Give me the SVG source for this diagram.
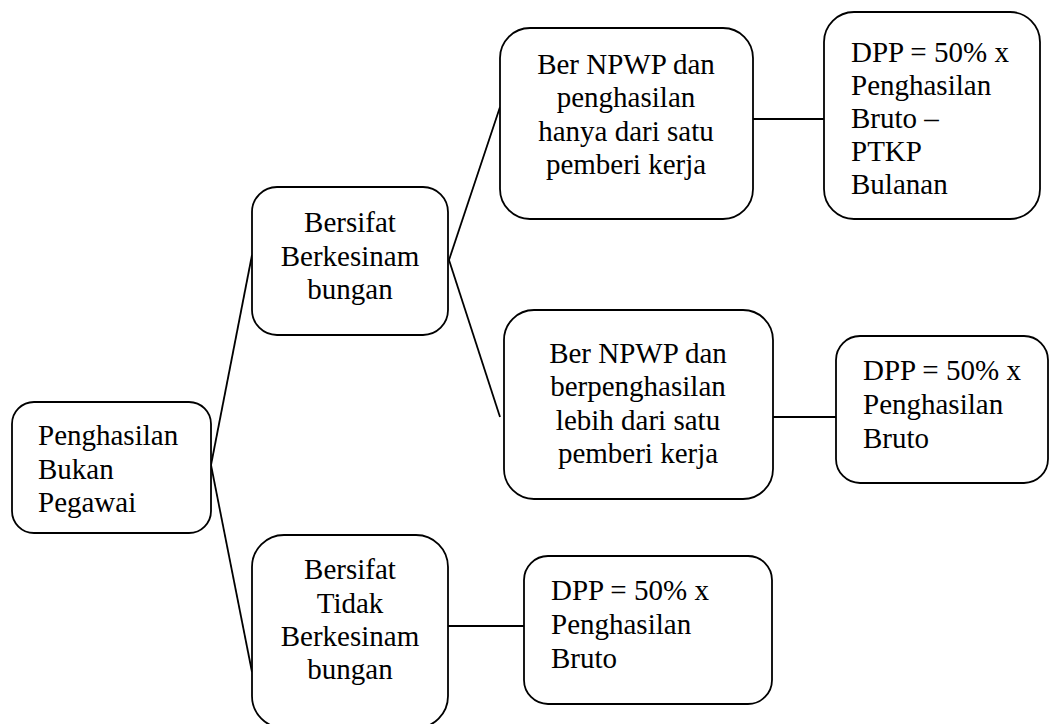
<svg xmlns="http://www.w3.org/2000/svg" width="1049" height="724" viewBox="0 0 1049 724">
<style>
.box{fill:#fff;stroke:#000;stroke-width:1.8}
text{font-family:'Liberation Serif','Times New Roman',Tinos,'DejaVu Serif',serif;font-size:29px;fill:#000}
.c{text-anchor:middle}
.ln{stroke:#000;stroke-width:1.8;fill:none}
</style>
<rect width="1049" height="724" fill="#fff"/>
<g id="connectors">
<line class="ln" x1="211" y1="465" x2="252" y2="255"/>
<line class="ln" x1="211" y1="465" x2="252" y2="672"/>
<line class="ln" x1="449" y1="260" x2="500" y2="107"/>
<line class="ln" x1="449" y1="260" x2="500" y2="417"/>
<line class="ln" x1="753" y1="119" x2="824" y2="119"/>
<line class="ln" x1="773" y1="417" x2="836" y2="417"/>
<line class="ln" x1="448" y1="626" x2="524" y2="626"/>
</g>
<g id="n1" font-family="Liberation Serif, serif">
<rect class="box" x="12" y="402" width="199" height="131" rx="22"/>
<text x="38" y="445">Penghasilan</text>
<text x="38" y="479">Bukan</text>
<text x="38" y="512">Pegawai</text>
</g>
<g id="n2">
<rect class="box" x="252" y="187" width="196" height="148" rx="25"/>
<text class="c" x="350" y="232">Bersifat</text>
<text class="c" x="350" y="266">Berkesinam</text>
<text class="c" x="350" y="299">bungan</text>
</g>
<g id="n3">
<rect class="box" x="252" y="535" width="196" height="193" rx="32"/>
<text class="c" x="350" y="579">Bersifat</text>
<text class="c" x="350" y="613">Tidak</text>
<text class="c" x="350" y="646">Berkesinam</text>
<text class="c" x="350" y="679">bungan</text>
</g>
<g id="n4">
<rect class="box" x="500" y="28" width="253" height="191" rx="30"/>
<text class="c" x="626" y="74">Ber NPWP dan</text>
<text class="c" x="626" y="107">penghasilan</text>
<text class="c" x="626" y="141">hanya dari satu</text>
<text class="c" x="626" y="174">pemberi kerja</text>
</g>
<g id="n5">
<rect class="box" x="504" y="310" width="269" height="189" rx="30"/>
<text class="c" x="638" y="363">Ber NPWP dan</text>
<text class="c" x="638" y="396">berpenghasilan</text>
<text class="c" x="638" y="430">lebih dari satu</text>
<text class="c" x="638" y="463">pemberi kerja</text>
</g>
<g id="n6">
<rect class="box" x="824" y="12" width="216" height="207" rx="30"/>
<text x="851" y="62">DPP = 50% x</text>
<text x="851" y="95">Penghasilan</text>
<text x="851" y="128">Bruto –</text>
<text x="851" y="161">PTKP</text>
<text x="851" y="194">Bulanan</text>
</g>
<g id="n7">
<rect class="box" x="836" y="336" width="212" height="147" rx="24"/>
<text x="863" y="380">DPP = 50% x</text>
<text x="863" y="414">Penghasilan</text>
<text x="863" y="448">Bruto</text>
</g>
<g id="n8">
<rect class="box" x="524" y="556" width="248" height="148" rx="24"/>
<text x="551" y="600">DPP = 50% x</text>
<text x="551" y="634">Penghasilan</text>
<text x="551" y="668">Bruto</text>
</g>
</svg>
